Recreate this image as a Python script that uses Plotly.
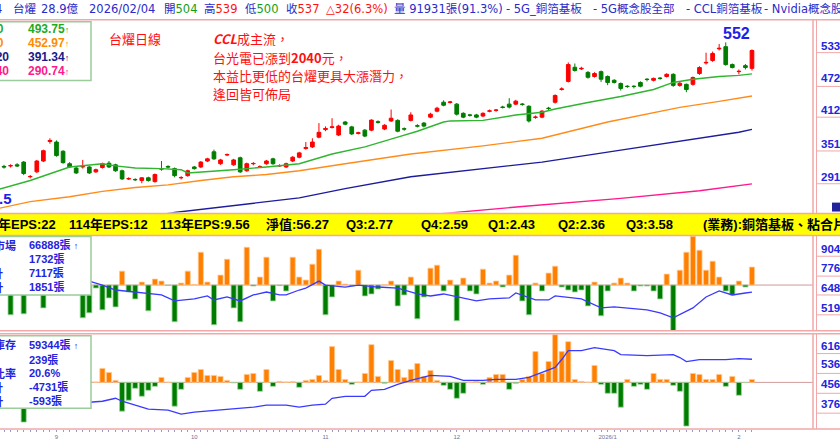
import plotly.graph_objects as go

W, H = 840, 440

# ---------------- data ----------------
month_idx = [9, 30, 50, 70, 93, 113]
month_txt = ["9", "10", "11", "12", "2026/1", "2"]

opens = [355, 323, 324, 326, 331, 304, 313, 333, 369, 368,
         351, 328, 320, 322, 322, 313, 321, 329, 326, 315,
         300, 299, 297, 302, 295, 318, 323, 319, 302, 306,
         322, 322, 333, 350, 328, 344, 326, 339, 315, 328,
         322, 328, 337, 324, 322, 333, 340, 356, 359, 377,
         391, 395, 381, 405, 396, 384, 390, 390, 405.5, 392,
         407, 408, 392.5, 408, 398, 403, 414, 425, 441.5, 441,
         438, 421, 418, 418, 416, 425, 426.5, 432.5, 438, 438,
         438, 434, 413.5, 414, 430.5, 441.5, 465, 480, 506, 503,
         496.5, 489, 498, 489, 482, 476, 471, 471, 478, 484,
         482, 486, 489, 493, 472.5, 474.5, 474.5, 494.5, 514, 518.5,
         540, 544, 511, 498, 509, 504]
highs = [358, 326, 327, 329, 333, 307, 335, 354, 375, 371,
         353, 331, 323, 335, 324, 319, 330, 333, 328, 317,
         303, 301, 303, 304, 310, 333, 325, 321, 305, 317,
         324, 333, 339, 354, 337, 347, 337, 341, 330, 331,
         325, 335, 339, 327, 330, 342, 350, 368, 375, 403,
         397, 412, 400, 407, 398, 387, 392, 410, 408, 401,
         428, 410, 395, 423, 401, 405, 422, 433, 445, 444,
         440, 423, 420, 420, 423, 428, 429, 435, 449, 446,
         440, 436, 417, 427, 433, 456, 469, 515, 513, 507,
         499, 497, 500, 491, 484, 478, 473, 473, 480, 486,
         487, 488, 495, 495, 479, 476, 489, 508, 533, 535,
         549, 552, 513, 502, 512, 539]
lows = [340, 319, 321, 322, 307, 301, 311, 331, 365, 341,
        328, 320, 309, 319, 309, 311, 319, 320, 313, 298,
        298, 296, 292, 295, 293, 315, 319, 303, 299, 304,
        317, 320, 331, 335, 326, 342, 324, 311, 313, 325,
        320, 326, 326, 322, 320, 331, 338, 354, 357, 375,
        388, 393, 379, 399, 381, 382, 377, 388, 402, 390,
        405, 386, 389, 406, 395, 395, 412, 423, 434, 439,
        417, 412, 415, 412, 414, 423, 424, 430, 430, 436,
        435, 404, 411, 412, 427, 439, 463, 478, 498, 501,
        485, 487, 479, 473, 476, 463, 468, 467, 469, 480,
        480, 483, 487, 470, 470, 460, 472, 492, 511, 516,
        537, 509, 504, 493, 502, 500]
closes = [343, 322, 324.5, 324, 310, 304.5, 333, 352, 371, 343,
          330, 322, 311, 323, 311, 317, 328, 322, 315, 300,
          300.5, 298.5, 302, 297, 308, 319, 322, 306, 302.5, 315,
          319, 331, 337, 337, 335, 345, 335, 313, 328, 328.5,
          322.5, 333, 328, 324.5, 328, 340, 348, 358, 368, 386,
          393, 396, 397.5, 401, 383, 385, 379, 408.5, 404.5, 399,
          412, 388, 392, 418, 397.5, 397.5, 419.5, 430.5, 436, 442,
          419.5, 414, 417.5, 414, 421, 425.5, 427, 432, 432.5, 443.5,
          437.5, 407, 414, 425, 430, 454, 466, 511, 500, 504,
          487.5, 494.5, 484, 478, 478, 467, 470.5, 470.5, 471, 483.5,
          485.5, 485.5, 493, 472.5, 476.5, 465, 487, 505.5, 515, 531.5,
          541, 511, 505.5, 498.5, 505.5, 537]

ma20_x = [0, 5, 11, 16, 18, 21, 25, 28, 29, 32, 36, 41, 46, 51, 56, 61, 64, 68, 69, 74,
          79, 83, 85, 90, 95, 100, 103, 106, 110, 113, 115]
ma20_v = [280, 297, 322, 328, 324, 320, 319, 317, 311, 313, 317, 322, 328, 346, 359, 377, 388, 405, 407, 408,
          418, 423, 429, 441, 452, 465, 478, 484, 489, 491, 493.75]
ma60_x = [0, 5, 11, 16, 21, 26, 31, 36, 41, 46, 53, 63, 74, 83, 93, 104, 110, 115]
ma60_v = [245, 258, 267, 277, 284, 289, 297, 304, 308, 315, 328, 346, 361, 375, 405, 432, 443, 452.97]
ma120_x = [22, 27, 46, 53, 63, 74, 83, 95, 113, 115]
ma120_v = [229, 238, 265, 282, 304, 319, 331, 353, 386, 391.34]
ma240_x = [61, 66, 80, 95, 107, 115]
ma240_v = [223, 234, 249, 264, 278, 290.74]

# panel 2: daily net (張) bars + holding line
p2_bar = [800, -500, -2880, 600, -2784, 400, 1200, -2208, 1500, -800,
          500, -600, 300, -3168, -2688, -288, -2400, -1248, -2112, 1344,
          -672, -1344, 288, -2496, 576, 384, -50, -3552, 192, 1344,
          60, 3168, 288, -3840, 960, 2496, -2208, -3552, 3648, -96,
          768, 2688, -1536, -60, -576, 2688, 768, 480, 2016, 3456,
          -2880, -1152, 384, 96, -96, 1440, -1056, -864, -384, 30,
          384, -2016, -960, 768, -3264, -1152, 1632, 1920, -576, 480,
          -3456, 672, -576, -864, 1536, 192, 384, -192, 960, 2880,
          -1536, -2880, 192, -576, 1152, 1824, -192, -480, -672, -480,
          -2016, 288, -2976, -576, 192, 672, 192, -576, -96, -96,
          -576, -1344, 1056, -4600, 1440, 3168, 4704, 3360, 1440, 2304,
          768, -576, -960, 384, -192, 1732]
p2_line_x = [0, 5, 10, 14, 16, 18, 21, 23, 25, 27, 30, 32, 33, 35, 37, 39, 41, 43, 44, 46,
             47, 49, 50, 53, 55, 58, 61, 64, 66, 68, 70, 73, 75, 78, 79, 82, 84, 85, 89, 92,
             94, 99, 101, 103, 106, 108, 110, 112, 114, 115]
p2_line_v = [72000, 73000, 74000, 74160, 71550, 68290, 66980, 66330, 65030, 61110,
             62420, 64370, 61760, 63720, 61110, 65030, 66980, 65030, 65030, 68290,
             69590, 74160, 71550, 70250, 71550, 70250, 69590, 65680, 64370, 65680,
             63720, 61110, 62420, 63070, 66330, 61760, 61760, 64370, 62420, 56540,
             57190, 55240, 53280, 50020, 56540, 63720, 67640, 65030, 66330, 66888]

# panel 3: daily change bars + balance line
p3_bar = [400, -300, 500, -200, -3200, 300, 600, -400, 800, -500,
          300, -200, 200, -600, 100, 30, 1120, 800, 160, -2320,
          -1440, -480, -1120, -640, -320, 400, 20, -1920, -560, 400,
          800, 1040, 560, 560, 480, 160, -40, -560, 640, 720,
          -720, 1040, -320, 80, 40, 60, -400, 160, 240, 560,
          160, 2880, 1040, 240, -160, 20, 720, 3040, 480, -80,
          1760, 1040, 400, 1040, 1520, 480, 960, 160, -240, -560,
          -1280, -880, 20, 80, -160, 400, 640, 640, -560, -80,
          240, 480, 2480, 720, 1680, 3840, 2480, 3280, 240, 80,
          20, 1360, -160, -880, -880, -2000, 240, -320, -160, -560,
          720, 240, 240, -240, -720, -3520, 720, 640, 240, 240,
          640, -320, 480, -1040, -20, 239]
p3_line_x = [0, 7, 14, 16, 18, 19, 21, 23, 26, 28, 30, 34, 36, 39, 41, 44, 46, 48, 50, 51,
             53, 56, 57, 59, 61, 63, 66, 69, 71, 74, 76, 79, 81, 83, 85, 86, 87, 89, 91, 94,
             95, 99, 103, 104, 105, 107, 111, 113, 115]
p3_line_v = [41000, 42000, 42055, 42455, 43650, 42455, 40855, 39260, 38860, 37260,
             38060, 38860, 39260, 40060, 40855, 40855, 40060, 40855, 41255, 43650,
             44450, 44450, 46850, 47250, 49245, 50845, 52840, 52440, 50845, 50845,
             51245, 51245, 52040, 54040, 56040, 59235, 62830, 62830, 64030, 62830,
             61230, 60830, 61230, 60030, 58435, 59235, 59235, 59630, 59344]

price_ticks = ["533", "472", "412", "351", "291"]
p2_ticks = ["9047", "7764", "6483", "5198"]
p3_ticks = ["6163", "5364", "4566", "3768"]

N = len(opens)
idx = list(range(N))

# ---------------- styling helpers ----------------
FONT = "Liberation Sans, Arial, Noto Sans CJK TC, sans-serif"
HFONT = "DejaVu Sans, Noto Sans CJK TC, sans-serif"
CJK = "Noto Sans CJK TC, Liberation Sans, sans-serif"
PINK = "#f2a8a8"
BLUE = "#2424e0"
HBLUE = "#2b2bc8"
RED = "#ff1010"
ORANGE = "#ff8000"
DGREEN = "#007d00"


def PX(x):
    return x / W


def PY(y):
    return 1 - y / H


shapes = []
annotations = []


def hline(y, x0=0, x1=W, color=PINK, width=1.5):
    shapes.append(dict(type="line", xref="paper", yref="paper", x0=PX(x0), x1=PX(x1),
                       y0=PY(y), y1=PY(y), line=dict(color=color, width=width), layer="above"))


def vline(x, y0, y1, color=PINK, width=1.5):
    shapes.append(dict(type="line", xref="paper", yref="paper", x0=PX(x), x1=PX(x),
                       y0=PY(y0), y1=PY(y1), line=dict(color=color, width=width), layer="above"))


def rect(x0, y0, x1, y1, fill, line_color=None, lw=0, layer="above"):
    shapes.append(dict(type="rect", xref="paper", yref="paper", x0=PX(x0), x1=PX(x1),
                       y0=PY(y1), y1=PY(y0), fillcolor=fill,
                       line=dict(color=line_color or fill, width=lw), layer=layer))


def ann(x, y, text, color, size, anchor="left", family=FONT):
    annotations.append(dict(x=PX(x), y=PY(y), xref="paper", yref="paper", text=text,
                            showarrow=False, xanchor=anchor, yanchor="middle",
                            borderpad=0, font=dict(family=family, size=size, color=color)))


fig = go.Figure()

# candles
fig.add_trace(go.Candlestick(
    x=idx, open=opens, high=highs, low=lows, close=closes, xaxis="x", yaxis="y",
    increasing=dict(line=dict(color="#ff0000", width=1), fillcolor="#ff0000"),
    decreasing=dict(line=dict(color=DGREEN, width=1), fillcolor=DGREEN),
    whiskerwidth=0, hoverinfo="skip"))

for xs, vs, col in [(ma20_x, ma20_v, "#2fb52f"), (ma60_x, ma60_v, "#ff8c1a"),
                    (ma120_x, ma120_v, "#1c1c9c"), (ma240_x, ma240_v, "#ff1a8c")]:
    fig.add_trace(go.Scatter(x=xs, y=vs, mode="lines", line=dict(color=col, width=1.4),
                             xaxis="x", yaxis="y", hoverinfo="skip"))

# panel 2
fig.add_trace(go.Bar(x=idx, y=p2_bar, width=0.78, xaxis="x", yaxis="y2",
                     marker=dict(color=[ORANGE if v >= 0 else DGREEN for v in p2_bar],
                                 line=dict(color=["#ffc890" if v >= 0 else "#9fd89f" for v in p2_bar],
                                           width=0.8)),
                     hoverinfo="skip"))
fig.add_trace(go.Scatter(x=p2_line_x, y=p2_line_v, mode="lines", line=dict(color="#3a3aff", width=1.3),
                         xaxis="x", yaxis="y3", hoverinfo="skip"))

# panel 3
fig.add_trace(go.Bar(x=idx, y=p3_bar, width=0.78, xaxis="x", yaxis="y4",
                     marker=dict(color=[ORANGE if v >= 0 else DGREEN for v in p3_bar],
                                 line=dict(color=["#ffc890" if v >= 0 else "#9fd89f" for v in p3_bar],
                                           width=0.8)),
                     hoverinfo="skip"))
fig.add_trace(go.Scatter(x=p3_line_x, y=p3_line_v, mode="lines", line=dict(color="#3a3aff", width=1.3),
                         xaxis="x", yaxis="y5", hoverinfo="skip"))

# zero lines in the lower panels
for yr in ("y2", "y4"):
    shapes.append(dict(type="line", xref="paper", yref=yr, x0=0, x1=PX(813), y0=0, y1=0,
                       line=dict(color="#cf9a9a", width=1), layer="below"))

# ---------------- frames ----------------
hline(20)
rect(-2, 215, W + 2, 237, "#ffff00")
hline(215)
hline(237)
hline(333)
hline(336)
hline(432)
for (a, b) in [(20, 215), (237, 333), (336, 432)]:
    vline(813, a, b)
    vline(816.5, a, b, width=1)
for y in [53, 87, 118, 152, 185]:
    hline(y, 816, W, width=1)
for y in [258, 278, 297, 317]:
    hline(y, 816, W, width=1)
for y in [356, 376, 396, 416]:
    hline(y, 816, W, width=1)
rect(832, 204, 842, 213, "#22229a")

# legend boxes
rect(-2, 22, 91, 81, "white", "#9ccc9c", 1.5)
rect(-2, 238, 91, 297, "white", "#9ccc9c", 1.5)
rect(-2, 338, 91, 411, "white", "#9ccc9c", 1.5)

# ---------------- texts ----------------
# header
hy = 9
HS = 11.5
ann(3, hy, "6274", HBLUE, HS, anchor="right", family=HFONT)
ann(12, hy, "台燿", HBLUE, HS, family=HFONT)
ann(40, hy, "28.9億", HBLUE, HS, family=HFONT)
ann(88, hy, "2026/02/04", HBLUE, HS, family=HFONT)
ann(163, hy, "開<span style='color:#12a012'>504</span>", HBLUE, HS, family=HFONT)
ann(203, hy, "高<span style='color:#ff1010'>539</span>", HBLUE, HS, family=HFONT)
ann(244, hy, "低<span style='color:#12a012'>500</span>", HBLUE, HS, family=HFONT)
ann(285, hy, "收<span style='color:#ff1010'>537</span>", HBLUE, HS, family=HFONT)
ann(325, hy, "△32(6.3%)", RED, HS, family=HFONT)
ann(393, hy, "量 91931張(91.3%)", HBLUE, HS, family=HFONT)
ann(505, hy, "- 5G_銅箔基板", HBLUE, HS, family=HFONT)
ann(592, hy, "- 5G概念股全部", HBLUE, HS, family=HFONT)
ann(685, hy, "- CCL銅箔基板", HBLUE, HS, family=HFONT)
ann(763, hy, "- Nvidia概念股", HBLUE, HS, family=HFONT)

# MA legend
ma_rows = [(29, "20", "493.75", "#1faa1f", 5), (43, "60", "452.97", "#ff8c00", 5),
           (57, "120", "391.34", "#1a1a8a", 10), (71, "240", "290.74", "#ff1a8c", 10)]
for y, lab, val, col, lx in ma_rows:
    ann(lx, y, "<b>" + lab + "</b>", col, 12, anchor="right")
    ann(27, y, "<b>" + val + "</b><span style='font-size:9px'>↑</span>", col, 12)

# red commentary
ann(108, 39, "台燿日線", RED, 13, family=CJK)
ann(212, 39, "<b><i>CCL</i></b>成主流，", RED, 13, family=CJK)
ann(212, 58, "台光電已漲到<b>2040</b>元，", RED, 13, family=CJK)
ann(212, 76, "本益比更低的台燿更具大漲潛力，", RED, 13, family=CJK)
ann(212, 94, "逢回皆可佈局", RED, 13, family=CJK)

ann(736, 34, "<b>552</b>", "#2020e8", 16, anchor="center")
ann(13, 200, "<b>281.5</b>", "#2020e8", 15, anchor="right")

# right price column
for y, t in zip([46, 79, 111, 145, 178], price_ticks):
    ann(820, y, "<b>" + t + "</b>", BLUE, 11.5)
for y, t in zip([251, 270, 290, 310], p2_ticks):
    ann(820, y, "<b>" + t + "</b>", BLUE, 11.5)
for y, t in zip([348, 367, 387, 407], p3_ticks):
    ann(820, y, "<b>" + t + "</b>", BLUE, 11.5)

# EPS band
ey = 226.5
for x, t, anc in [(57, "115年EPS:22", "right"), (68, "114年EPS:12", "left"),
                  (159, "113年EPS:9.56", "left"), (265, "淨值:56.27", "left"),
                  (345, "Q3:2.77", "left"), (420, "Q4:2.59", "left"), (487, "Q1:2.43", "left"),
                  (557, "Q2:2.36", "left"), (625, "Q3:3.58", "left"),
                  (702, "(業務):銅箔基板、粘合片", "left")]:
    ann(x, ey, "<b>" + t + "</b>", "#000000", 13, anchor=anc)

# panel 2 legend
ann(17, 247, "<b>外資市場</b>", BLUE, 11, anchor="right")
ann(4, 275, "<b>5日合計</b>", BLUE, 11, anchor="right")
ann(4, 289, "<b>20日合計</b>", BLUE, 11, anchor="right")
for y, t in [(247, "66888張 <span style='font-size:9px'>↑</span>"), (261, "1732張"),
             (275, "7117張"), (289, "1851張")]:
    ann(28, y, "<b>" + t + "</b>", BLUE, 11)

# panel 3 legend
ann(17, 347, "<b>融券庫存</b>", BLUE, 11, anchor="right")
ann(17, 376, "<b>券資比率</b>", BLUE, 11, anchor="right")
ann(4, 390, "<b>5日合計</b>", BLUE, 11, anchor="right")
ann(4, 404, "<b>20日合計</b>", BLUE, 11, anchor="right")
for y, t in [(347, "59344張 <span style='font-size:9px'>↑</span>"), (362, "239張"),
             (376, "20.6%"), (390, "-4731張"), (404, "-593張")]:
    ann(28, y, "<b>" + t + "</b>", BLUE, 11)

ticktext = [month_txt[month_idx.index(i)] if i in month_idx else "" for i in idx]

fig.update_layout(
    width=W, height=H, margin=dict(l=0, r=0, t=0, b=0),
    paper_bgcolor="white", plot_bgcolor="white", showlegend=False,
    boxgap=0.2,
    xaxis=dict(domain=[0, 813 / W], range=[0.39, 124.3], anchor="y4",
               rangeslider=dict(visible=False), showgrid=False, zeroline=False, showline=False,
               ticks="outside", ticklen=2, tickwidth=1, tickcolor="#9a9ac8",
               tickvals=idx, ticktext=ticktext, tickangle=0,
               tickfont=dict(size=6, color="#7070a0", family=FONT)),
    yaxis=dict(domain=[PY(214), PY(21)], range=[237.9, 591.7], visible=False, anchor="x"),
    yaxis2=dict(domain=[PY(333), PY(237)], range=[-4416, 4800], visible=False, anchor="x"),
    yaxis3=dict(overlaying="y2", range=[41540, 104170], visible=False, anchor="x"),
    yaxis4=dict(domain=[PY(432), PY(336)], range=[-3760, 3920], visible=False, anchor="x"),
    yaxis5=dict(overlaying="y4", range=[31268, 69620], visible=False, anchor="x"),
    shapes=shapes, annotations=annotations,
)

fig.write_html("out.html")
